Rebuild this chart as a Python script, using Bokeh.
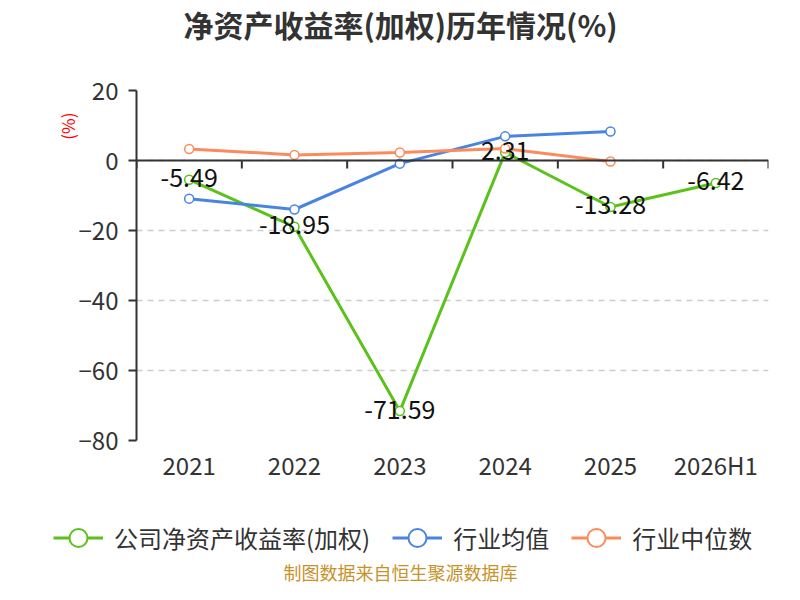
import math
from bokeh.plotting import figure
from bokeh.layouts import column
from bokeh.models import (ColumnDataSource, Range1d, FactorRange, FixedTicker, Span,
                          Legend, LegendItem, Label, LabelSet, Title)
from bokeh.transform import dodge
from bokeh.core.properties import value
from bokeh.embed import file_html
from bokeh.resources import INLINE

years = ["2021", "2022", "2023", "2024", "2025", "2026H1"]
company = [-5.49, -18.95, -71.59, 2.31, -13.28, -6.42]
avg_years = ["2021", "2022", "2023", "2024", "2025"]
industry_avg = [-10.9, -14.0, -0.9, 6.9, 8.3]
industry_median = [3.3, 1.6, 2.3, 3.4, -0.3]
y_ticks = [-80, -60, -40, -20, 0, 20]

title_text = "净资产收益率(加权)历年情况(%)"
unit_text = "(%)"
source_text = "制图数据来自恒生聚源数据库"
names = ["公司净资产收益率(加权)", "行业均值", "行业中位数"]
colors = ["#5bc21c", "#4a84e2", "#fb8b5b"]

FONT = "Noto Sans CJK SC"
W = 784
CX = 400
TOP_H, BOT_H = 45, 94
YMIN, YMAX = -80, 20
FRAME_W, FRAME_H = 632, 350


def text_fig(h):
    f = figure(width=W, height=h, x_range=Range1d(0, 1), y_range=Range1d(0, 1),
               output_backend="svg", toolbar_location=None, x_axis_location=None,
               y_axis_location=None, min_border=0)
    f.grid.grid_line_color = None
    f.outline_line_color = None
    f.border_fill_color = "white"
    try:
        f.frame_align = False
    except Exception:
        pass
    return f


# ---- title figure
top = text_fig(TOP_H)
top.add_layout(Label(x=CX, y=TOP_H - 23, x_units="screen", y_units="screen", text=title_text,
                     text_align="center", text_baseline="middle", text_color="#333333",
                     text_font=FONT, text_font_size="30px", text_font_style="bold"))

# ---- main chart
p = figure(frame_width=FRAME_W, frame_height=FRAME_H,
           x_range=FactorRange(factors=years, range_padding=0),
           y_range=Range1d(YMIN, YMAX), output_backend="svg", toolbar_location=None,
           min_border_left=136, min_border_right=W - 136 - FRAME_W, min_border_top=45,
           min_border_bottom=50)
p.outline_line_color = None
p.border_fill_color = "white"
try:
    p.frame_align = False
except Exception:
    pass

p.yaxis.ticker = FixedTicker(ticks=y_ticks)
p.yaxis.axis_line_color = "#333333"
p.yaxis.axis_line_width = 2
p.yaxis.major_tick_line_color = "#333333"
p.yaxis.major_tick_line_width = 2
p.yaxis.major_tick_out = 8
p.yaxis.major_tick_in = 0
p.yaxis.minor_tick_line_color = None
p.yaxis.major_label_text_font = FONT
p.yaxis.major_label_text_font_size = "24px"
p.yaxis.major_label_text_color = "#333333"
p.yaxis.major_label_standoff = 10

p.xaxis.axis_line_color = None
p.xaxis.major_tick_line_color = None
p.xaxis.major_tick_out = 0
p.xaxis.major_tick_in = 0
p.xaxis.minor_tick_line_color = None
p.xaxis.major_label_text_font = FONT
p.xaxis.major_label_text_font_size = "24px"
p.xaxis.major_label_text_color = "#333333"
p.xaxis.major_label_standoff = 6

p.xgrid.grid_line_color = None
p.ygrid.ticker = FixedTicker(ticks=y_ticks)
p.ygrid.grid_line_color = "#cccccc"
p.ygrid.grid_line_width = 1.5
p.ygrid.grid_line_dash = "6 5"

unit = Title(text=unit_text, align="right", offset=22, standoff=-8, text_color="#ff0000",
             text_font=FONT, text_font_size="17px", text_font_style="normal")
p.add_layout(unit, "left")

# zero axis line with ticks at category boundaries
p.add_layout(Span(location=0, dimension="width", line_color="#333333", line_width=2))
tick_len = 8 * (YMAX - YMIN) / FRAME_H
tk = ColumnDataSource(dict(x=years, y0=[0] * len(years), y1=[-tick_len] * len(years)))
p.segment(x0=dodge("x", -0.5, range=p.x_range), x1=dodge("x", -0.5, range=p.x_range),
          y0="y0", y1="y1", source=tk, line_color="#333333", line_width=2)
tk2 = ColumnDataSource(dict(x=[years[-1]], y0=[0], y1=[-tick_len]))
p.segment(x0=dodge("x", 0.5, range=p.x_range), x1=dodge("x", 0.5, range=p.x_range),
          y0="y0", y1="y1", source=tk2, line_color="#333333", line_width=2)

src_c = ColumnDataSource(dict(x=years, y=company, t=[f"{v:.2f}" for v in company]))
src_a = ColumnDataSource(dict(x=avg_years, y=industry_avg))
src_m = ColumnDataSource(dict(x=avg_years, y=industry_median))

for src, col in [(src_c, colors[0]), (src_a, colors[1]), (src_m, colors[2])]:
    p.line("x", "y", source=src, line_color=col, line_width=3)
    p.scatter("x", "y", source=src, size=9, fill_color="white", line_color=col, line_width=1.5)

p.add_layout(LabelSet(x="x", y="y", text="t", source=src_c, text_align="center",
                      text_baseline="middle", y_offset=2, text_font=value(FONT),
                      text_font_size="25px", text_color="#111111"))

# ---- legend + source figure
bot = text_fig(BOT_H)
nan = float("nan")
items = []
for name, col in zip(names, colors):
    dsrc = ColumnDataSource(dict(x=[0.5], y=[nan]))
    lr = bot.line("x", "y", source=dsrc, line_color=col, line_width=3)
    sr = bot.scatter("x", "y", source=dsrc, size=18, fill_color="white", line_color=col,
                     line_width=2)
    items.append(LegendItem(label=name, renderers=[lr, sr]))

legend = Legend(items=items, orientation="horizontal", location=(53, BOT_H - 47 - 23),
                label_text_font=FONT, label_text_font_size="24px", label_text_color="#333333",
                glyph_width=50, glyph_height=45, label_standoff=11, spacing=22,
                border_line_color=None, background_fill_alpha=0, margin=0, padding=0)
bot.add_layout(legend, "center")
bot.add_layout(Label(x=CX, y=13, x_units="screen", y_units="screen", text=source_text,
                     text_align="center", text_baseline="middle", text_color="#c8922a",
                     text_font=FONT, text_font_size="18px"))

layout = column(top, p, bot, spacing=0)
open("out.html", "w").write(file_html(layout, INLINE))
